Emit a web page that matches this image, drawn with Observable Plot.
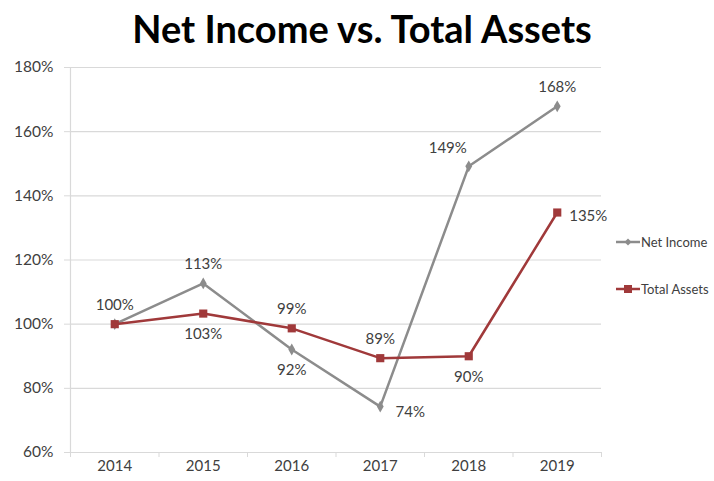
<!DOCTYPE html>
<html><head><meta charset="utf-8">
<script src="https://cdn.jsdelivr.net/npm/d3@7"></script>
<script src="https://cdn.jsdelivr.net/npm/@observablehq/plot@0.6"></script>
<style>
body{margin:0;background:#fff;font-family:Lato,"Open Sans",sans-serif}
#wrap{position:relative;width:714px;height:481px;overflow:hidden}
#title{height:55px;line-height:56px;text-align:center;font-weight:bold;font-size:38px;color:#000;padding-left:10px}
.leg{position:absolute;left:616px;font-size:13px;color:#404040;display:flex;align-items:center;white-space:nowrap}
.leg svg{margin-right:1px}
</style></head><body>
<div id="wrap">
<div id="title">Net Income vs. Total Assets</div>
<div id="chart"></div>
</div>
<script>
const years = ["2014", "2015", "2016", "2017", "2018", "2019"];
const netIncome = [100, 112.7, 92.1, 74.3, 149.2, 167.9];
const totalAssets = [100, 103.3, 98.7, 89.4, 90.0, 134.8];
const yTicks = [60, 80, 100, 120, 140, 160, 180];
const seriesNames = ["Net Income", "Total Assets"];

const gray = "#8c8c8c", red = "#a0393a", textCol = "#404040", gridCol = "#d9d9d9";

const rows = (vals, name) => vals.map((v, i) => ({i, v, name, label: Math.round(v) + "%"}));
const ni = rows(netIncome, seriesNames[0]);
const ta = rows(totalAssets, seriesNames[1]);

// label placements (style): index -> placement key
const niPlace = ["above", "above", "below", "belowRight", "aboveLeft", "above"];
const taPlace = [null, "below", "above", "above", "below", "right"];
const offsets = {
  above: {dx: 0, dy: -19},
  below: {dx: 0, dy: 21},
  belowRight: {dx: 30, dy: 6},
  aboveLeft: {dx: -21, dy: -18},
  right: {dx: 31, dy: 4}
};
const labelMarks = [];
for (const [key, o] of Object.entries(offsets)) {
  const d = ni.filter(r => niPlace[r.i] === key).concat(ta.filter(r => taPlace[r.i] === key));
  labelMarks.push(Plot.text(d, {x: "i", y: "v", text: "label", dx: o.dx, dy: o.dy, fill: textCol, fontSize: 15}));
}

const boundaries = d3.range(years.length + 1).map(k => k - 0.5);

const chart = Plot.plot({
  width: 714,
  height: 426,
  marginTop: 12,
  marginBottom: 29,
  marginLeft: 70,
  marginRight: 113,
  style: {fontFamily: "Lato, 'Open Sans', sans-serif", background: "#fff"},
  x: {type: "linear", domain: [-0.5, years.length - 0.5], axis: null},
  y: {domain: [60, 180], axis: null},
  marks: [
    Plot.gridY(yTicks, {stroke: gridCol, strokeOpacity: 1, strokeWidth: 1.2}),
    Plot.ruleX([-0.5], {stroke: gridCol, strokeWidth: 1.2}),
    Plot.ruleY([60], {stroke: gridCol, strokeWidth: 1.2}),
    Plot.axisY({ticks: yTicks, tickSize: 6, tickPadding: 11, stroke: gridCol, fill: textCol, fontSize: 15.5, label: null, tickFormat: d => d + "%"}),
    Plot.axisX({ticks: boundaries, tickSize: 5, stroke: gridCol, label: null, tickFormat: () => ""}),
    Plot.axisX({ticks: d3.range(years.length), tickSize: 0, tickPadding: 8, fill: textCol, fontSize: 15, label: null, tickFormat: i => years[i]}),
    Plot.line(ni, {x: "i", y: "v", stroke: gray, strokeWidth: 2.5}),
    Plot.line(ta, {x: "i", y: "v", stroke: red, strokeWidth: 2.5}),
    Plot.dot(ni, {x: "i", y: "v", symbol: "diamond", fill: gray, r: 3.6}),
    Plot.dot(ta, {x: "i", y: "v", symbol: "square", fill: red, r: 4.6}),
    ...labelMarks
  ]
});
document.getElementById("chart").appendChild(chart);

// legend
const wrap = document.getElementById("wrap");
const legendItems = [
  {name: seriesNames[0], color: gray, shape: "diamond", top: 234},
  {name: seriesNames[1], color: red, shape: "square", top: 281}
];
for (const it of legendItems) {
  const div = document.createElement("div");
  div.className = "leg";
  div.style.top = it.top + "px";
  const marker = it.shape === "diamond"
    ? `<path d="M12,1.5 L15.5,5 L12,8.5 L8.5,5 Z" fill="${it.color}"/>`
    : `<rect x="8" y="1" width="8" height="8" fill="${it.color}"/>`;
  div.innerHTML = `<svg width="24" height="10"><line x1="0" y1="5" x2="24" y2="5" stroke="${it.color}" stroke-width="2.5"/>${marker}</svg><span>${it.name}</span>`;
  wrap.appendChild(div);
}
</script>
</body></html>
